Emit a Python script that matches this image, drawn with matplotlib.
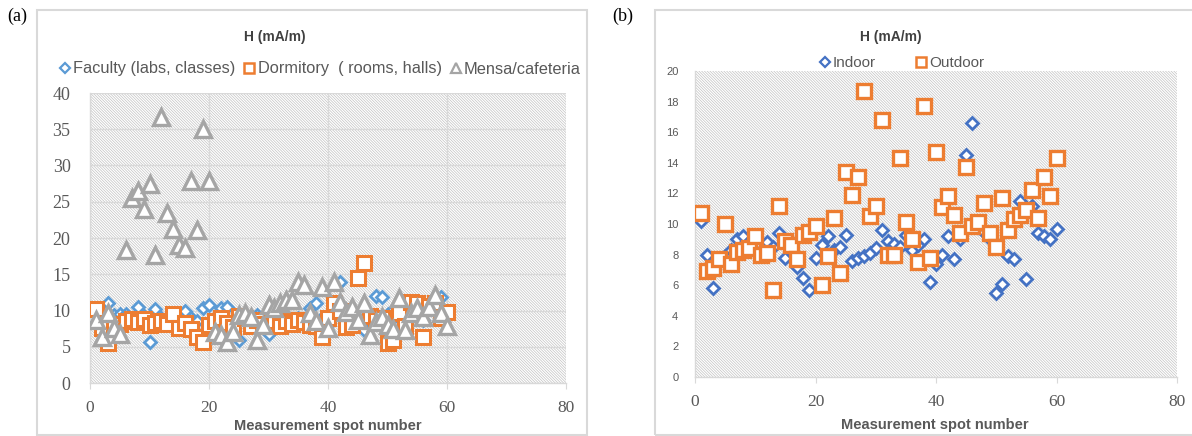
import matplotlib.pyplot as plt
import numpy as np
from matplotlib.patches import Rectangle
from matplotlib.lines import Line2D

# measurement spots 1..60
spot = np.arange(1, 61)

# (a) H field by building type
faculty = [8.3, 9.0, 11.0, 9.4, 9.5, 9.5, 8.8, 10.5, 9.2, 5.6,
           10.2, 9.0, 8.5, 9.2, 8.0, 10.0, 9.0, 8.6, 10.4, 10.8,
           9.0, 10.3, 10.5, 8.2, 6.0, 8.6, 7.8, 9.4, 8.3, 6.8,
           8.7, 9.3, 9.0, 8.6, 9.0, 8.4, 10.4, 11.0, 9.0, 8.0,
           9.5, 13.9, 9.8, 8.2, 9.0, 7.3, 8.5, 12.0, 11.9, 9.5,
           10.1, 8.2, 8.0, 9.2, 9.7, 8.7, 10.6, 11.4, 11.8, 10.0]
dormitory = [10.2, 7.6, 5.5, 7.8, 8.2, 8.6, 8.8, 8.4, 8.8, 8.0,
             8.3, 8.6, 8.2, 9.5, 7.6, 8.3, 7.5, 6.4, 5.6, 8.0,
             8.6, 9.0, 8.3, 7.7, 9.2, 8.9, 7.8, 8.7, 8.2, 7.9,
             8.6, 7.8, 8.6, 8.2, 8.7, 8.4, 8.0, 7.9, 6.3, 9.0,
             11.0, 10.0, 7.7, 8.0, 14.5, 16.6, 9.3, 8.7, 9.0, 5.5,
             6.0, 9.7, 7.9, 11.2, 11.1, 6.4, 10.6, 11.0, 9.0, 9.8]
mensa = [8.7, 6.4, 9.6, 7.6, 6.8, 18.3, 25.5, 26.5, 24.0, 27.4,
         17.7, 36.7, 23.4, 21.3, 19.0, 18.6, 27.8, 21.1, 35.1, 27.8,
         7.1, 6.6, 5.7, 7.1, 9.4, 9.6, 9.1, 5.9, 8.0, 10.8,
         10.4, 11.0, 11.4, 11.5, 14.0, 13.5, 9.6, 8.5, 13.3, 7.6,
         14.0, 11.2, 9.8, 10.5, 8.7, 11.0, 6.6, 8.4, 9.1, 8.0,
         7.5, 11.7, 7.3, 9.6, 10.3, 9.1, 10.5, 12.1, 9.6, 7.8]

# (b) H field indoor vs outdoor
indoor = [10.2, 8.0, 5.8, 7.5, 7.9, 8.3, 9.0, 9.2, 8.8, 8.6,
          8.2, 8.8, 8.5, 9.4, 7.8, 8.2, 7.2, 6.5, 5.7, 7.8,
          8.6, 9.2, 8.3, 8.5, 9.3, 7.6, 7.8, 7.9, 8.1, 8.4,
          9.6, 8.9, 8.7, 8.5, 9.3, 8.3, 8.6, 9.0, 6.2, 7.4,
          8.0, 9.2, 7.7, 9.0, 14.5, 16.6, 9.8, 9.5, 9.0, 5.5,
          6.1, 7.9, 7.7, 11.5, 6.4, 11.2, 9.4, 9.2, 9.0, 9.7]
outdoor = [10.7, 6.9, 7.1, 7.7, 10.0, 7.4, 8.2, 8.3, 8.4, 9.2,
           8.0, 8.1, 5.7, 11.2, 8.9, 8.6, 7.7, 9.3, 9.5, 9.9,
           6.0, 7.9, 10.4, 6.8, 13.4, 11.9, 13.1, 18.7, 10.5, 11.2,
           16.8, 8.0, 8.0, 14.3, 10.1, 9.0, 7.5, 17.7, 7.8, 14.7,
           11.1, 11.8, 10.6, 9.4, 13.7, 9.9, 10.1, 11.4, 9.4, 8.5,
           11.7, 9.6, 10.3, 10.6, 10.9, 12.2, 10.4, 13.1, 11.8, 14.3]

W, H = 1192, 436
def fx(p):
    return p / W
def fy(p):
    return 1 - p / H

BLUE_A = '#5b9bd5'
BLUE_B = '#4472c4'
ORANGE = '#ed7d31'
GRAY = '#a5a5a5'
TXT = '#595959'
GRID = '#d9d9d9'
HATCH = '#c2c2c2'

plt.rcParams['hatch.linewidth'] = 0.5
plt.rcParams['hatch.color'] = HATCH

fig = plt.figure(figsize=(W / 100, H / 100), dpi=100)

# chart area borders
for x0, x1 in [(37, 587), (655, 1210)]:
    fig.patches.append(Rectangle((fx(x0), fy(435)), fx(x1) - fx(x0), fy(10) - fy(435),
                                 transform=fig.transFigure, fill=False,
                                 edgecolor=GRID, lw=1.5))


def style_axes(ax, ymax, ystep, ysize, yfont, ypad):
    ax.set_facecolor('white')
    ax.add_patch(Rectangle((0, 0), 1, 1, transform=ax.transAxes, facecolor='white',
                           edgecolor=HATCH, hatch='\\' * 12, lw=0, zorder=0))
    ax.set_xlim(0, 80)
    ax.set_ylim(0, ymax)
    ax.set_xticks(np.arange(0, 81, 20))
    ax.set_yticks(np.arange(0, ymax + 0.1, ystep))
    for s in ['top', 'right']:
        ax.spines[s].set_visible(False)
    for s in ['left', 'bottom']:
        ax.spines[s].set_color(GRID)
        ax.spines[s].set_linewidth(1.0)
    ax.tick_params(axis='x', length=4, color=GRID, pad=8, labelcolor=TXT)
    ax.tick_params(axis='y', length=0, pad=ypad, labelcolor=TXT)
    for lab in ax.get_xticklabels():
        lab.set_family('Liberation Serif')
        lab.set_fontsize(12.5)
    for lab in ax.get_yticklabels():
        lab.set_family(yfont)
        lab.set_fontsize(ysize)
    ax.set_axisbelow(True)


# ---- (a) ----
ax1 = fig.add_axes([fx(90), fy(383), fx(566) - fx(90), fy(93) - fy(383)])
style_axes(ax1, 40, 5, 13, 'Liberation Serif', 14)
ax1.grid(True, color=GRID, lw=1.0)
ax1.plot(spot, faculty, ls='none', marker='D', ms=6.5, mew=2, mfc='white', mec=BLUE_A, zorder=3)
ax1.plot(spot, dormitory, ls='none', marker='s', ms=9.5, mew=2.2, mfc='white', mec=ORANGE, zorder=4)
ax1.plot(spot, mensa, ls='none', marker='^', ms=11, mew=2.4, mfc='white', mec=GRAY, zorder=5)

fig.text(fx(7), fy(16), '(a)', family='Liberation Serif', fontsize=13, va='center')
fig.text(fx(275), fy(37), 'H (mA/m)', fontsize=10, weight='bold', color='#404040',
         ha='center', va='center', family='Liberation Sans')
fig.text(fx(328), fy(426), 'Measurement spot number', fontsize=10.5, weight='bold', color=TXT,
         ha='center', va='center', family='Liberation Sans')

h_a = [Line2D([], [], ls='none', marker='D', ms=5, mew=1.6, mfc='white', mec=BLUE_A),
       Line2D([], [], ls='none', marker='s', ms=7, mew=1.8, mfc='white', mec=ORANGE),
       Line2D([], [], ls='none', marker='^', ms=7.5, mew=1.6, mfc='white', mec=GRAY)]
leg_a = fig.legend(h_a, ['Faculty (labs, classes)', 'Dormitory  ( rooms, halls)', 'Mensa/cafeteria'],
                   loc='center', bbox_to_anchor=(fx(320), fy(69)), ncol=3, frameon=False,
                   handlelength=0.7, handletextpad=0.15, columnspacing=0.5,
                   prop={'family': 'Liberation Sans', 'size': 11.8})
for t in leg_a.get_texts():
    t.set_color(TXT)

# ---- (b) ----
ax2 = fig.add_axes([fx(695), fy(377), fx(1177) - fx(695), fy(71) - fy(377)])
style_axes(ax2, 20, 2, 8, 'Liberation Sans', 12)
ax2.plot(spot, indoor, ls='none', marker='D', ms=6.5, mew=2, mfc='white', mec=BLUE_B, zorder=3)
ax2.plot(spot, outdoor, ls='none', marker='s', ms=10, mew=2.4, mfc='white', mec=ORANGE, zorder=4)

fig.text(fx(612), fy(16), '(b)', family='Liberation Serif', fontsize=13, va='center')
fig.text(fx(891), fy(37), 'H (mA/m)', fontsize=10, weight='bold', color='#404040',
         ha='center', va='center', family='Liberation Sans')
fig.text(fx(935), fy(425), 'Measurement spot number', fontsize=10.5, weight='bold', color=TXT,
         ha='center', va='center', family='Liberation Sans')

h_b = [Line2D([], [], ls='none', marker='D', ms=5, mew=1.6, mfc='white', mec=BLUE_B),
       Line2D([], [], ls='none', marker='s', ms=7, mew=1.8, mfc='white', mec=ORANGE)]
leg_b = fig.legend(h_b, ['Indoor', 'Outdoor'], loc='center', bbox_to_anchor=(fx(902), fy(63)),
                   ncol=2, frameon=False, handlelength=0.7, handletextpad=0.2, columnspacing=2.6,
                   prop={'family': 'Liberation Sans', 'size': 11})
for t in leg_b.get_texts():
    t.set_color(TXT)

fig.savefig('out.png', dpi=100)
